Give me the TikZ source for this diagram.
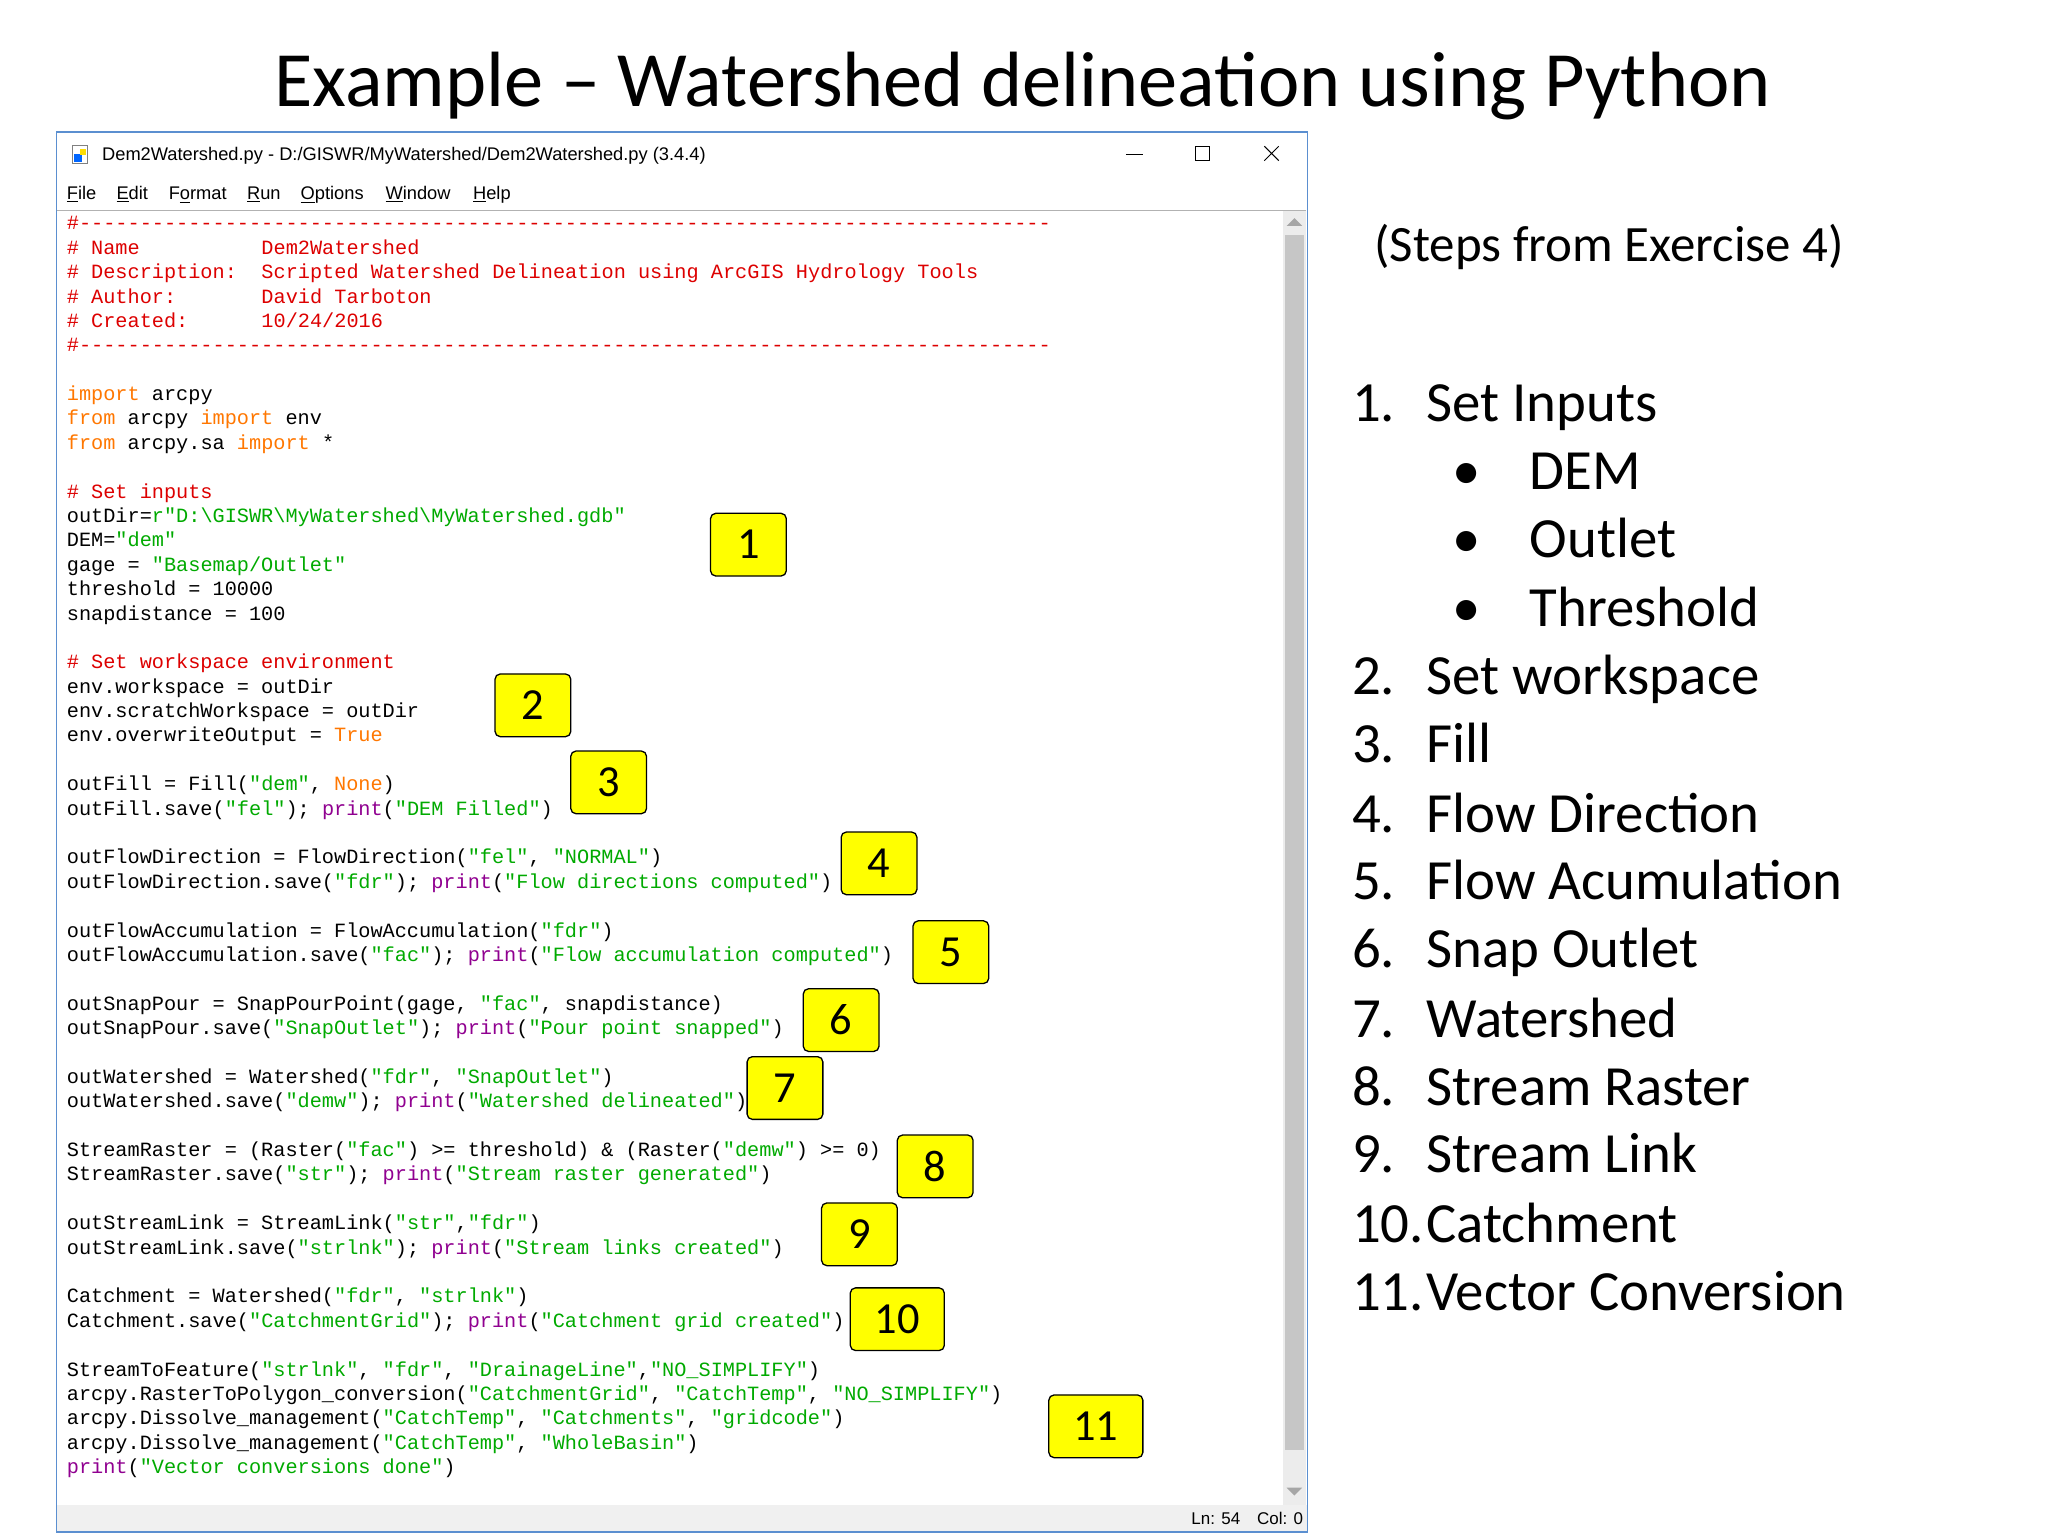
\documentclass[tikz,border=0pt]{standalone}
\usepackage{fontspec}
\setmainfont{Carlito}
\setmonofont{Liberation Mono}
\newfontfamily\uifont{Liberation Sans}
\definecolor{cmt}{HTML}{DD0000}
\definecolor{kwd}{HTML}{FF7700}
\definecolor{strc}{HTML}{00AA00}
\definecolor{bic}{HTML}{900090}
\definecolor{ybox}{HTML}{FFFF00}
\definecolor{winb}{HTML}{5B8FD0}
\newcommand\Cm[1]{\textcolor{cmt}{#1}}
\newcommand\Kw[1]{\textcolor{kwd}{#1}}
\newcommand\St[1]{\textcolor{strc}{#1}}
\newcommand\Bi[1]{\textcolor{bic}{#1}}
\newcommand\cl[2]{\node[code] (c#1) at (51,{171+18.67*#1+5}) {#2};}
\newcommand\dashln{\#--------------------------------------------------------------------------------}
\tikzset{
  code/.style={anchor=base west, inner sep=0, font=\ttfamily\fontsize{15.5}{17}\selectfont},
  numbox/.style={draw=black, line width=1pt, fill=ybox, rounded corners=4pt, minimum width=58, minimum height=48, inner sep=0, font=\fontsize{34}{36}\selectfont},
  item/.style={anchor=base west, inner sep=0, font=\fontsize{43.5}{46}\selectfont},
  menu/.style={anchor=base west, inner sep=0, font=\uifont\fontsize{14}{16}\selectfont}
}
\begin{document}
\begin{tikzpicture}[x=1pt,y=-1pt]
\useasboundingbox (0,0) rectangle (1568,1176);
\fill[white] (0,0) rectangle (1568,1176);
\node[font=\fontsize{60}{64}\selectfont, inner sep=0] (title) at (783,66) {Example -- Watershed delineation using Python};
% window
\fill[white] (43,101) rectangle (1001,1173);
\fill[gray!12] (43,1152) rectangle (1001,1173);
\fill[gray!15] (982,161) rectangle (1000,1152);
\fill[gray!45] (984,180) rectangle (998,1110);
\draw[gray!60] (44,161) -- (1000,161);
\draw[winb, line width=1pt] (43,101) rectangle (1001,1173);
% icon
\draw[gray, fill=white] (55,111) rectangle (67,125);
\fill[blue!60!cyan] (57,118) rectangle (63,124);
\fill[yellow!80!orange] (61,114) rectangle (66,119);
\node[menu] (wt) at (78,123) {Dem2Watershed.py - D:/GISWR/MyWatershed/Dem2Watershed.py (3.4.4)};
\draw[line width=0.8pt] (862,118) -- (875,118);
\draw[line width=0.8pt] (915,112) rectangle (926,123);
\draw[line width=0.8pt] (968,112) -- (979,123) (968,123) -- (979,112);
\node[menu] (m1) at (51,153) {\underline{F}ile};
\node[menu] (m2) at (89,153) {\underline{E}dit};
\node[menu] (m3) at (129,153) {F\underline{o}rmat};
\node[menu] (m4) at (189,153) {\underline{R}un};
\node[menu] (m5) at (230,153) {\underline{O}ptions};
\node[menu] (m6) at (295,153) {\underline{W}indow};
\node[menu] (m7) at (362,153) {\underline{H}elp};
\fill[gray!70] (985,173) -- (991,167) -- (997,173) -- cycle;
\fill[gray!70] (985,1139) -- (991,1145) -- (997,1139) -- cycle;
\node[menu, font=\uifont\fontsize{13}{15}\selectfont] (st) at (912,1167) {Ln: 54\quad Col: 0};
% code
\cl{0}{\Cm{\dashln}}
\cl{1}{\Cm{\# Name}}
\cl{2}{\Cm{\# Description:}}
\cl{3}{\Cm{\# Author:}}
\cl{4}{\Cm{\# Created:}}
\node[code] (h1) at (200,{171+18.67*1+5}) {\Cm{Dem2Watershed}};
\node[code] (h2) at (200,{171+18.67*2+5}) {\Cm{Scripted Watershed Delineation using ArcGIS Hydrology Tools}};
\node[code] (h3) at (200,{171+18.67*3+5}) {\Cm{David Tarboton}};
\node[code] (h4) at (200,{171+18.67*4+5}) {\Cm{10/24/2016}};
\cl{5}{\Cm{\dashln}}
\cl{7}{\Kw{import} arcpy}
\cl{8}{\Kw{from} arcpy \Kw{import} env}
\cl{9}{\Kw{from} arcpy.sa \Kw{import} *}
\cl{11}{\Cm{\# Set inputs}}
\cl{12}{outDir=\St{r"D:\textbackslash GISWR\textbackslash MyWatershed\textbackslash MyWatershed.gdb"}}
\cl{13}{DEM=\St{"dem"}}
\cl{14}{gage = \St{"Basemap/Outlet"}}
\cl{15}{threshold = 10000}
\cl{16}{snapdistance = 100}
\cl{18}{\Cm{\# Set workspace environment}}
\cl{19}{env.workspace = outDir}
\cl{20}{env.scratchWorkspace = outDir}
\cl{21}{env.overwriteOutput = \Kw{True}}
\cl{23}{outFill = Fill(\St{"dem"}, \Kw{None})}
\cl{24}{outFill.save(\St{"fel"}); \Bi{print}(\St{"DEM Filled"})}
\cl{26}{outFlowDirection = FlowDirection(\St{"fel"}, \St{"NORMAL"})}
\cl{27}{outFlowDirection.save(\St{"fdr"}); \Bi{print}(\St{"Flow directions computed"})}
\cl{29}{outFlowAccumulation = FlowAccumulation(\St{"fdr"})}
\cl{30}{outFlowAccumulation.save(\St{"fac"}); \Bi{print}(\St{"Flow accumulation computed"})}
\cl{32}{outSnapPour = SnapPourPoint(gage, \St{"fac"}, snapdistance)}
\cl{33}{outSnapPour.save(\St{"SnapOutlet"}); \Bi{print}(\St{"Pour point snapped"})}
\cl{35}{outWatershed = Watershed(\St{"fdr"}, \St{"SnapOutlet"})}
\cl{36}{outWatershed.save(\St{"demw"}); \Bi{print}(\St{"Watershed delineated"})}
\cl{38}{StreamRaster = (Raster(\St{"fac"}) >= threshold) \& (Raster(\St{"demw"}) >= 0)}
\cl{39}{StreamRaster.save(\St{"str"}); \Bi{print}(\St{"Stream raster generated"})}
\cl{41}{outStreamLink = StreamLink(\St{"str"},\St{"fdr"})}
\cl{42}{outStreamLink.save(\St{"strlnk"}); \Bi{print}(\St{"Stream links created"})}
\cl{44}{Catchment = Watershed(\St{"fdr"}, \St{"strlnk"})}
\cl{45}{Catchment.save(\St{"CatchmentGrid"}); \Bi{print}(\St{"Catchment grid created"})}
\cl{47}{StreamToFeature(\St{"strlnk"}, \St{"fdr"}, \St{"DrainageLine"},\St{"NO\_SIMPLIFY"})}
\cl{48}{arcpy.RasterToPolygon\_conversion(\St{"CatchmentGrid"}, \St{"CatchTemp"}, \St{"NO\_SIMPLIFY"})}
\cl{49}{arcpy.Dissolve\_management(\St{"CatchTemp"}, \St{"Catchments"}, \St{"gridcode"})}
\cl{50}{arcpy.Dissolve\_management(\St{"CatchTemp"}, \St{"WholeBasin"})}
\cl{51}{\Bi{print}(\St{"Vector conversions done"})}
% numbered boxes
\node[numbox] (b1) at (573,417) {1};
\node[numbox] (b2) at (408,540) {2};
\node[numbox] (b3) at (466,599) {3};
\node[numbox] (b4) at (673,661) {4};
\node[numbox] (b5) at (728,729) {5};
\node[numbox] (b6) at (644,781) {6};
\node[numbox] (b7) at (601,833) {7};
\node[numbox] (b8) at (716,893) {8};
\node[numbox] (b9) at (658,945) {9};
\node[numbox, minimum width=72] (b10) at (687,1010) {10};
\node[numbox, minimum width=72] (b11) at (839,1092) {11};
% right list
\node[font=\fontsize{39}{41}\selectfont, inner sep=0] (steps) at (1232,189) {(Steps from Exercise 4)};
\node[item] (n1) at (1035,323) {1.};
\node[item] (t1) at (1092,323) {Set Inputs};
\node[item] (d1) at (1112,375) {•};
\node[item] (s1) at (1171,375) {DEM};
\node[item] (d2) at (1112,427) {•};
\node[item] (s2) at (1171,427) {Outlet};
\node[item] (d3) at (1112,480) {•};
\node[item] (s3) at (1171,480) {Threshold};
\node[item] (n2) at (1035,532) {2.};
\node[item] (t2) at (1092,532) {Set workspace};
\node[item] (n3) at (1035,584) {3.};
\node[item] (t3) at (1092,584) {Fill};
\node[item] (n4) at (1035,637) {4.};
\node[item] (t4) at (1092,637) {Flow Direction};
\node[item] (n5) at (1035,689) {5.};
\node[item] (t5) at (1092,689) {Flow Acumulation};
\node[item] (n6) at (1035,741) {6.};
\node[item] (t6) at (1092,741) {Snap Outlet};
\node[item] (n7) at (1035,794) {7.};
\node[item] (t7) at (1092,794) {Watershed};
\node[item] (n8) at (1035,846) {8.};
\node[item] (t8) at (1092,846) {Stream Raster};
\node[item] (n9) at (1035,898) {9.};
\node[item] (t9) at (1092,898) {Stream Link};
\node[item] (n10) at (1035,951) {10.};
\node[item] (t10) at (1092,951) {Catchment};
\node[item] (n11) at (1035,1003) {11.};
\node[item] (t11) at (1092,1003) {Vector Conversion};
\end{tikzpicture}
\end{document}
